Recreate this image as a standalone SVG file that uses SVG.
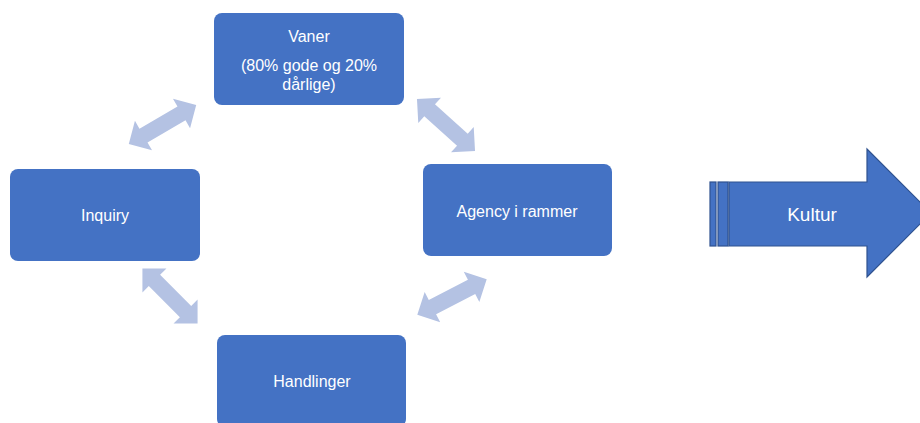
<svg xmlns="http://www.w3.org/2000/svg" width="920" height="423" viewBox="0 0 920 423">
<style>
.box{fill:#4472C4;}
.t{font-family:"Liberation Sans",Arial,sans-serif;font-size:16px;fill:#FFFFFF;text-anchor:middle;}
.dbl{fill:#B4C2E3;}
.big{fill:#4472C4;stroke:#2F528F;stroke-width:1.2;}
</style>
<defs>
<polygon id="dblArrow" points="-39,0 -22,-17 -22,-8 22,-8 22,-17 39,0 22,17 22,8 -22,8 -22,17"/>
</defs>
<rect width="920" height="423" fill="#FFFFFF"/>
<g id="connectors" class="dbl">
<use href="#dblArrow" transform="translate(162.5,124.5) rotate(-30.2)"/>
<use href="#dblArrow" transform="translate(446,125) rotate(41.9)"/>
<use href="#dblArrow" transform="translate(452,297) rotate(-27.2)"/>
<use href="#dblArrow" transform="translate(170,296) rotate(45)"/>
</g>
<g id="vaner">
<rect class="box" x="214" y="13" width="190" height="92" rx="8"/>
<text class="t" x="309" y="42">Vaner</text>
<text class="t" x="309" y="71">(80% gode og 20%</text>
<text class="t" x="309" y="90">dårlige)</text>
</g>
<g id="inquiry">
<rect class="box" x="10" y="169" width="190" height="92" rx="8"/>
<text class="t" x="105" y="221">Inquiry</text>
</g>
<g id="agency">
<rect class="box" x="423" y="164" width="189" height="92" rx="8"/>
<text class="t" x="517" y="217">Agency i rammer</text>
</g>
<g id="handlinger">
<rect class="box" x="217" y="335" width="189" height="92" rx="8"/>
<text class="t" x="312" y="387">Handlinger</text>
</g>
<g id="kultur">
<rect class="big" x="710" y="182" width="6" height="64"/>
<rect class="big" x="718" y="182" width="10" height="64"/>
<polygon class="big" points="729,182 867,182 867,149 931,213 867,277 867,246 729,246"/>
<text class="t" x="812" y="221" style="font-size:19px">Kultur</text>
</g>
</svg>
